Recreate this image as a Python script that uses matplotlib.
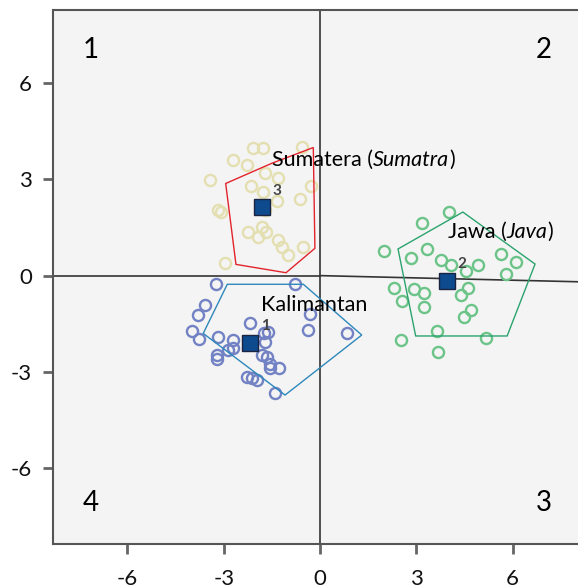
import matplotlib
matplotlib.use("Agg")
import matplotlib.pyplot as plt
import numpy as np

plt.rcParams['font.family'] = ['Lato', 'DejaVu Sans']

# ---- data ----
sum_x = [-2.08, -1.78, -2.70, -2.28, -1.71, -1.30, -0.57, -0.28, -3.43, -2.15, -1.77, -0.62, -3.19,
         -3.09, -1.35, -1.71, -1.82, -2.23, -1.92, -1.68, -1.30, -1.19, -0.99, -0.52, -2.96]
sum_y = [3.96, 3.96, 3.60, 3.44, 3.20, 3.03, 4.01, 2.79, 2.98, 2.79, 2.61, 2.40, 2.04,
         1.99, 2.33, 2.04, 1.52, 1.36, 1.21, 1.36, 1.11, 0.90, 0.64, 0.90, 0.38]

jaw_x = [4.02, 3.17, 1.98, 2.84, 3.34, 3.76, 4.08, 4.55, 4.92, 5.65, 6.10, 5.81, 2.30,
         2.56, 2.93, 3.24, 3.24, 4.39, 4.60, 4.71, 4.50, 3.66, 5.18, 2.53, 3.69]
jaw_y = [1.98, 1.64, 0.78, 0.55, 0.82, 0.48, 0.34, 0.15, 0.34, 0.67, 0.43, 0.06, -0.38,
         -0.80, -0.43, -0.54, -0.99, -0.59, -0.40, -1.06, -1.30, -1.74, -1.93, -2.02, -2.38]

kal_x = [-3.24, -0.78, -3.58, -3.79, -0.31, -0.36, 0.83, -4.00, -3.76, -3.17, -2.70, -2.18, -1.74, -1.61,
         -1.71, -2.86, -2.70, -3.22, -3.22, -1.82, -1.66, -1.56, -1.56, -1.27, -2.28, -2.13, -1.95, -1.40]
kal_y = [-0.26, -0.26, -0.92, -1.23, -1.18, -1.68, -1.78, -1.73, -1.96, -1.91, -2.01, -1.49, -1.80, -1.75,
         -2.06, -2.32, -2.27, -2.48, -2.61, -2.48, -2.53, -2.74, -2.89, -2.87, -3.15, -3.20, -3.26, -3.67]

sum_hull_x = [-2.94, -1.50, -0.21, -0.16, -1.06, -2.62]
sum_hull_y = [2.87, 3.50, 3.99, 0.85, 0.09, 0.35]
jaw_hull_x = [4.45, 6.70, 5.83, 2.98, 2.43]
jaw_hull_y = [1.98, 0.36, -1.88, -1.88, 0.83]
kal_hull_x = [-2.89, -0.52, 1.30, -1.09, -3.64]
kal_hull_y = [-0.27, -0.27, -1.85, -3.72, -1.80]

cent_x = [-2.18, 3.96, -1.81]
cent_y = [-2.10, -0.17, 2.13]
cent_labels = ["1", "2", "3"]

ticks = [-6, -3, 0, 3, 6]
quad_labels = ["1", "2", "3", "4"]

# ---- figure ----
fig = plt.figure(figsize=(5.78, 5.88), dpi=100)
ax = fig.add_axes([0.0912, 0.0748, 0.925, 0.908])
ax.set_facecolor('#F4F4F4')
ax.set_xlim(-8.33, 8.33)
ax.set_ylim(-8.36, 8.27)

# reference lines
ax.plot([-8.4, 0], [0, 0], color='#333333', lw=1.2, zorder=1)
ax.plot([0, 8.4], [0, -0.2], color='#333333', lw=1.2, zorder=1)
ax.axvline(0, color='#333333', lw=1.2, zorder=1)

mk = dict(marker='o', ls='none', mfc='none', ms=8, mew=1.7, zorder=2)
ax.plot(sum_x, sum_y, mec='#E4DFB0', **mk)
ax.plot(jaw_x, jaw_y, mec='#6CC488', **mk)
ax.plot(kal_x, kal_y, mec='#7282C4', **mk)

for hx, hy, c in [(sum_hull_x, sum_hull_y, '#E3232C'),
                  (jaw_hull_x, jaw_hull_y, '#2AA36E'),
                  (kal_hull_x, kal_hull_y, '#2E88BC')]:
    ax.fill(hx, hy, fill=False, edgecolor=c, lw=1.0, zorder=3)

ax.plot(cent_x, cent_y, marker='s', ls='none', ms=12, mfc='#0D4A8E', mec='#1A2340', mew=1.0, zorder=5)
for cx, cy, lab in zip(cent_x, cent_y, cent_labels):
    ax.text(cx + 0.47, cy + 0.52, lab, fontsize=11, fontweight='bold', color='#444444',
            ha='center', va='center', zorder=6)

FS = 15.5


def mixed(x, y, parts):
    t = None
    for s, it in parts:
        if t is None:
            t = ax.text(x, y, s, fontsize=FS, ha='left', va='center',
                        style='italic' if it else 'normal', zorder=6)
        else:
            t = ax.annotate(s, xycoords=t, xy=(1, 0.5), va='center', ha='left',
                            fontsize=FS, style='italic' if it else 'normal', zorder=6)
    return t


mixed(-1.50, 3.60, [("Sumatera (", False), ("Sumatra", True), (")", False)])
mixed(3.99, 1.36, [("Jawa (", False), ("Java", True), (")", False)])
mixed(-1.84, -0.92, [("Kalimantan", False)])

qfs = 20
ax.text(-7.13, 7.02, quad_labels[0], fontsize=qfs, ha='center', va='center')
ax.text(6.98, 7.02, quad_labels[1], fontsize=qfs, ha='center', va='center')
ax.text(6.98, -7.09, quad_labels[2], fontsize=qfs, ha='center', va='center')
ax.text(-7.13, -7.09, quad_labels[3], fontsize=qfs, ha='center', va='center')

ax.set_xticks(ticks)
ax.set_yticks(ticks)
ax.set_xticklabels([str(t) for t in ticks])
ax.set_yticklabels([str(t) for t in ticks])
ax.tick_params(axis='both', length=7, width=2, color='#666666', labelsize=16, labelcolor='#111111')
ax.tick_params(axis='x', pad=11)
ax.tick_params(axis='y', pad=8)
for s in ax.spines.values():
    s.set_color('#555555')
    s.set_linewidth(1.5)

fig.savefig("out.png", dpi=100)
